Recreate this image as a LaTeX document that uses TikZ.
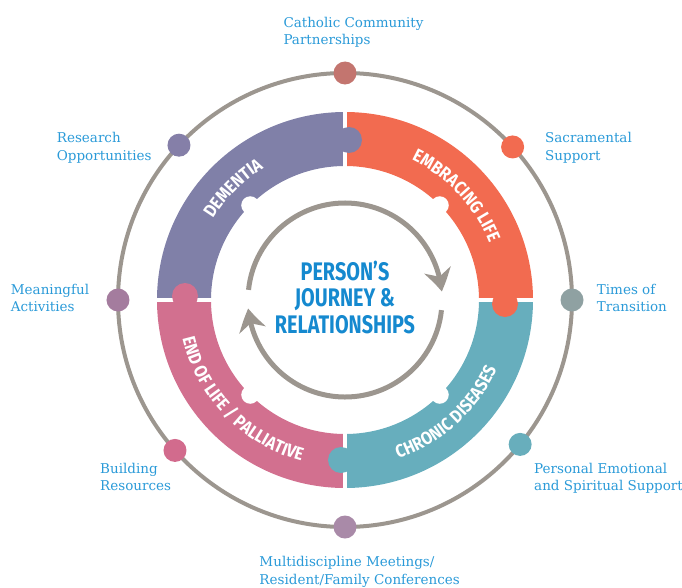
\documentclass[tikz,border=0pt]{standalone}
\usepackage{fontspec}
\setmainfont{DejaVu Serif}
\newfontfamily\capfont[FakeStretch=0.78]{Fira Sans}
\newfontfamily\ringcapfont[FakeStretch=0.88]{Fira Sans}
\usetikzlibrary{arrows.meta,decorations.text,bending}
\definecolor{cPurple}{HTML}{8080A8}
\definecolor{cOrange}{HTML}{F26B50}
\definecolor{cTeal}{HTML}{67AEBD}
\definecolor{cPink}{HTML}{D2708F}
\definecolor{cGray}{HTML}{9C968F}
\definecolor{cBlue}{HTML}{2A9AD8}
\definecolor{cCenter}{HTML}{1589CF}
\definecolor{dTop}{HTML}{C3756F}
\definecolor{dResearch}{HTML}{857FA8}
\definecolor{dSacr}{HTML}{F26B50}
\definecolor{dTimes}{HTML}{8FA1A2}
\definecolor{dMean}{HTML}{A47C9E}
\definecolor{dBuild}{HTML}{D26B8D}
\definecolor{dPers}{HTML}{68AEBC}
\definecolor{dBottom}{HTML}{A98AA8}
\newcommand\myringfont{\ringcapfont\bfseries\fontsize{18pt}{18pt}\selectfont}
\tikzset{
  dotnode/.style={circle, inner sep=0pt, minimum size=23pt},
  lbl/.style={anchor=base west, align=left, inner sep=0pt, text=cBlue, font=\fontsize{13.5pt}{17.5pt}\selectfont},
  ringtxt/.style={decorate, decoration={text along path, text={#1}, text align=center, text color=white}},
  cyclearrow/.style={cGray, line width=5pt, -{Stealth[length=22pt,width=27pt,inset=7pt,bend]}}
}
\begin{document}
\begin{tikzpicture}[x=1pt,y=1pt]
\useasboundingbox (-345,-287) rectangle (337,300);
% outer circle
\draw[cGray, line width=4pt] (0,0) circle[radius=227pt];
% ring sectors
\fill[cPurple] (90:188pt) arc[start angle=90,end angle=180,radius=188pt] -- (180:134pt) arc[start angle=180,end angle=90,radius=134pt] -- cycle;
\fill[cOrange] (0:188pt) arc[start angle=0,end angle=90,radius=188pt] -- (90:134pt) arc[start angle=90,end angle=0,radius=134pt] -- cycle;
\fill[cTeal] (270:188pt) arc[start angle=270,end angle=360,radius=188pt] -- (0:134pt) arc[start angle=360,end angle=270,radius=134pt] -- cycle;
\fill[cPink] (180:188pt) arc[start angle=180,end angle=270,radius=188pt] -- (270:134pt) arc[start angle=270,end angle=180,radius=134pt] -- cycle;
% gaps
\draw[white, line width=4pt] (0,128) -- (0,194) (0,-128) -- (0,-194) (128,0) -- (194,0) (-128,0) -- (-194,0);
% knobs
\fill[cPurple] (4,160) circle[radius=13pt];
\fill[cOrange] (160,-4) circle[radius=13pt];
\fill[cTeal] (-4,-160) circle[radius=13pt];
\fill[cPink] (-160,4) circle[radius=13pt];
% notches
\foreach \a in {45,135,225,315} \fill[white] (\a:134pt) circle[radius=9pt];
% ring texts
\path[ringtxt={|\myringfont|DEMENTIA}] (160:155pt) arc[start angle=160,end angle=110,radius=155pt];
\path[ringtxt={|\myringfont|EMBRACING LIFE}] (85:155pt) arc[start angle=85,end angle=1,radius=155pt];
\path[ringtxt={|\myringfont|END OF LIFE / PALLIATIVE}] (184:167pt) arc[start angle=184,end angle=264,radius=167pt];
\path[ringtxt={|\myringfont|CHRONIC DISEASES}] (-88:167pt) arc[start angle=-88,end angle=-8,radius=167pt];
% cycle arrows
\draw[cyclearrow] (174:97pt) arc[start angle=174,end angle=5,radius=97pt];
\draw[cyclearrow] (-6:97pt) arc[start angle=-6,end angle=-175,radius=97pt];
% centre text
\node[text=cCenter, align=center, font=\capfont\bfseries\fontsize{25.4pt}{26.5pt}\selectfont] (centre) at (0,3) {PERSON’S\\JOURNEY \&\\RELATIONSHIPS};
% dots
\node[dotnode, fill=dTop] (dtop) at (90:227pt) {};
\node[dotnode, fill=dResearch] (dres) at (137:227pt) {};
\node[dotnode, fill=dMean] (dmean) at (180:227pt) {};
\node[dotnode, fill=dBuild] (dbuild) at (221.5:227pt) {};
\node[dotnode, fill=dBottom] (dbottom) at (270:227pt) {};
\node[dotnode, fill=dPers] (dpers) at (-39.5:227pt) {};
\node[dotnode, fill=dTimes] (dtimes) at (0:227pt) {};
\node[dotnode, fill=dSacr] (dsacr) at (42.4:227pt) {};
% labels (anchor = baseline of the last line)
\node[lbl] (ltop) at (-61.7,255.2) {Catholic Community\\Partnerships};
\node[lbl] (lres) at (-288.3,139.8) {Research\\Opportunities};
\node[lbl] (lsacr) at (200,139.8) {Sacramental\\Support};
\node[lbl] (lmean) at (-334.3,-11.5) {Meaningful\\Activities};
\node[lbl] (ltimes) at (251.7,-11.5) {Times of\\Transition};
\node[lbl] (lbuild) at (-245,-190.8) {Building\\Resources};
\node[lbl] (lpers) at (189,-190.8) {Personal Emotional\\and Spiritual Support};
\node[lbl] (lbottom) at (-85.7,-284.2) {Multidiscipline Meetings/\\Resident/Family Conferences};
\end{tikzpicture}
\end{document}
